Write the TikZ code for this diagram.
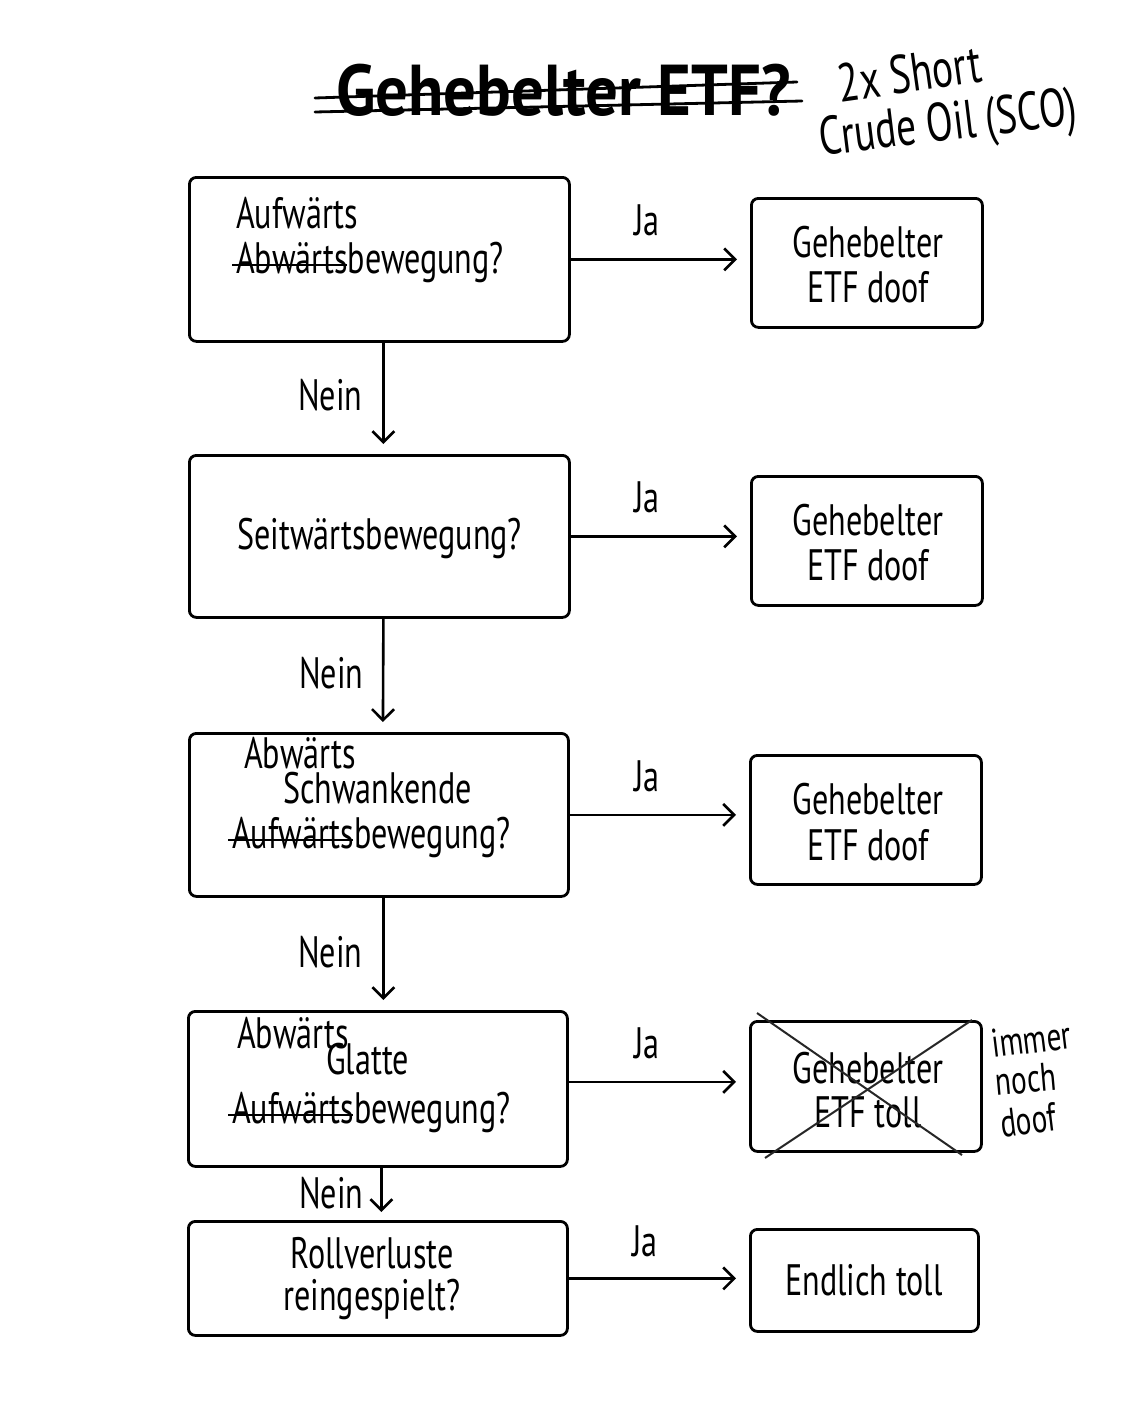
\documentclass[tikz,border=0pt]{standalone}
\usepackage{fontspec}
\setmainfont{PT Sans}[FakeStretch=0.73]
\newfontfamily\titlefont{PT Sans Bold}[FakeStretch=0.9]
\usetikzlibrary{arrows.meta}
\newcommand\strk[1]{\setbox0\hbox{#1}\rlap{\kern-4pt\raisebox{0.32ex}{\rule{\dimexpr\wd0+3pt\relax}{2.4pt}}}\box0}
\tikzset{
  box/.style={draw, line width=2.8pt, rounded corners=7pt, inner sep=0pt, anchor=north west},
  txt/.style={font=\fontsize{44}{50}\selectfont, inner sep=0pt, anchor=base west},
  ctxt/.style={font=\fontsize{44}{50}\selectfont, inner sep=0pt, anchor=base},
  hand/.style={font=\fontsize{40}{44}\selectfont, inner sep=0pt, anchor=base},
  arr/.style={line width=2.6pt, -{Straight Barb[length=11pt,width=22pt,line width=2.6pt]}},
  cross/.style={line width=2pt, draw=black!85},
  strikeline/.style={line width=2.8pt, line cap=round},
}
\begin{document}
\begin{tikzpicture}[x=1pt,y=-1pt]
\useasboundingbox (0,0) rectangle (1122,1402);
\fill[white] (0,0) rectangle (1122,1402);

% title
\node[font=\fontsize{72}{80}\titlefont, inner sep=0pt, anchor=base west] (title) at (336,116) {Gehebelter ETF?};
\draw[strikeline] (315,98) -- (797,82);
\draw[strikeline] (315,112) -- (802,101);
\node[hand, rotate=8, font=\fontsize{54}{58}\selectfont] (short) at (912,92) {2x Short};
\node[hand, rotate=7, font=\fontsize{54}{58}\selectfont] (crude) at (950,140) {Crude Oil (SCO)};

% question boxes
\node[box, minimum width=380pt, minimum height=164pt] (q1) at (188,176) {};
\node[box, minimum width=380pt, minimum height=162pt] (q2) at (188,454) {};
\node[box, minimum width=379pt, minimum height=163pt] (q3) at (188,732) {};
\node[box, minimum width=379pt, minimum height=155pt] (q4) at (187,1010) {};
\node[box, minimum width=379pt, minimum height=114pt] (q5) at (187,1220) {};

% decision boxes
\node[box, minimum width=231pt, minimum height=129pt] (d1) at (750,197) {};
\node[box, minimum width=231pt, minimum height=129pt] (d2) at (750,475) {};
\node[box, minimum width=231pt, minimum height=129pt] (d3) at (749,754) {};
\node[box, minimum width=231pt, minimum height=130pt] (d4) at (749,1020) {};
\node[box, minimum width=228pt, minimum height=102pt] (d5) at (749,1228) {};

% texts in question boxes
\node[txt] (t1a) at (236,228) {Aufwärts};
\node[txt] (t1b) at (236,273) {\strk{Abwärts}bewegung?};
\node[txt] (t2) at (237,549) {Seitwärtsbewegung?};
\node[txt] (t3a) at (244,768) {Abwärts};
\node[txt] (t3b) at (283,803) {Schwankende};
\node[txt] (t3c) at (232,848) {\strk{Aufwärts}bewegung?};
\node[txt] (t4a) at (237,1048) {Abwärts};
\node[txt] (t4b) at (326,1074) {Glatte};
\node[txt] (t4c) at (232,1123) {\strk{Aufwärts}bewegung?};
\node[ctxt] (t5a) at (372,1268) {Rollverluste};
\node[ctxt] (t5b) at (372,1310) {reingespielt?};

% texts in decision boxes
\node[ctxt] (r1a) at (868,257) {Gehebelter};
\node[ctxt] (r1b) at (868,302) {ETF doof};
\node[ctxt] (r2a) at (868,535) {Gehebelter};
\node[ctxt] (r2b) at (868,580) {ETF doof};
\node[ctxt] (r3a) at (868,814) {Gehebelter};
\node[ctxt] (r3b) at (868,860) {ETF doof};
\node[ctxt] (r4a) at (868,1083) {Gehebelter};
\node[ctxt] (r4b) at (868,1127) {ETF toll};
\node[ctxt] (r5) at (864,1295) {Endlich toll};

% cross over d4
\draw[cross] (757,1013) -- (962,1155);
\draw[cross] (765,1158) -- (972,1020);
\node[hand, rotate=7] (im1) at (1033,1053) {immer};
\node[hand, rotate=5] (im2) at (1027,1093) {noch};
\node[hand, rotate=7] (im3) at (1030,1134) {doof};

% Ja arrows
\draw[arr, shorten >=13pt] (q1.east) -- (q1.east -| d1.west);
\draw[arr, shorten >=13pt] (q2.east) -- (q2.east -| d2.west);
\draw[arr, shorten >=13pt] (q3.east) -- (q3.east -| d3.west);
\draw[arr, shorten >=13pt] ([yshift=7pt]q4.east) -- ([yshift=7pt]q4.east -| d4.west);
\draw[arr, shorten >=13pt] (q5.east) -- (q5.east -| d5.west);

\node[txt] (ja1) at (634,235) {Ja};
\node[txt] (ja2) at (634,512) {Ja};
\node[txt] (ja3) at (634,791) {Ja};
\node[txt] (ja4) at (634,1058) {Ja};
\node[txt] (ja5) at (632,1256) {Ja};

% Nein arrows
\draw[arr, shorten >=10pt] ([xshift=4pt]q1.south) -- ([xshift=4pt]q2.north);
\draw[arr, shorten >=10pt] ([xshift=4pt]q2.south) -- ([xshift=4pt]q3.north);
\draw[arr, shorten >=10pt] ([xshift=4.5pt]q3.south) -- ([xshift=4.5pt]q3.south |- q4.north);
\draw[arr, shorten >=8pt] ([xshift=3.5pt]q4.south) -- ([xshift=3.5pt]q4.south |- q5.north);

\node[txt] (n1) at (298,410) {Nein};
\node[txt] (n2) at (299,688) {Nein};
\node[txt] (n3) at (298,967) {Nein};
\node[txt] (n4) at (299,1208) {Nein};
\end{tikzpicture}
\end{document}
